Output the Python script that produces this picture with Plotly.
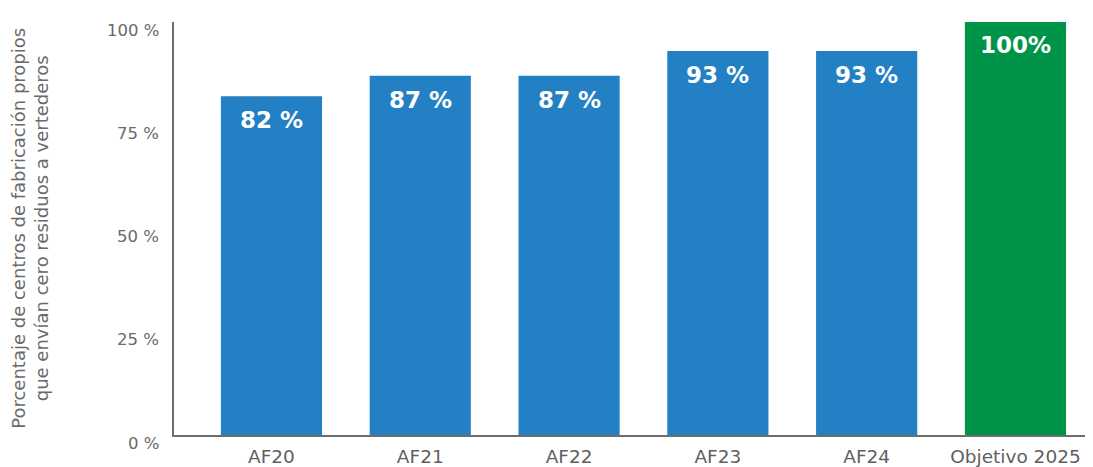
import plotly.graph_objects as go

categories = ["AF20", "AF21", "AF22", "AF23", "AF24", "Objetivo 2025"]
values = [82, 87, 87, 93, 93, 100]
bar_labels = ["82 %", "87 %", "87 %", "93 %", "93 %", "100%"]
bar_colors = ["#2380c4", "#2380c4", "#2380c4", "#2380c4", "#2380c4", "#009448"]
ytick_vals = [0, 25, 50, 75, 100]
ytick_text = ["0 %", "25 %", "50 %", "75 %", "100 %"]
ytitle = "Porcentaje de centros de fabricación propios<br>que envían cero residuos a vertederos"

FONT = "DejaVu Sans"
# page body has an 8px default margin; compensate so the plot lands where the reference has it
OFF = 8

fig = go.Figure()
fig.add_trace(go.Bar(
    x=list(range(len(categories))), y=values,
    marker=dict(color=bar_colors, line=dict(width=0)),
    width=0.68, hoverinfo="skip",
))

ann = []
for i, (v, t) in enumerate(zip(values, bar_labels)):
    ann.append(dict(x=i, y=v, xref="x", yref="y", text=t, showarrow=False,
                    yanchor="middle", yshift=-24 if v < 100 else -23,
                    font=dict(family=FONT, size=23, color="white", weight="bold")))
for v, t in zip(ytick_vals, ytick_text):
    ann.append(dict(x=0, y=v, xref="paper", yref="y", text=t, showarrow=False,
                    xanchor="right", yanchor="middle", xshift=-13, yshift=-8,
                    font=dict(family=FONT, size=16.5, color="#6a6a6a")))
ann.append(dict(x=-0.1575, y=0.5, xref="paper", yref="paper", text=ytitle,
                showarrow=False, textangle=-90, xanchor="center", yanchor="middle",
                font=dict(family=FONT, size=18, color="#6a6a6a")))

fig.update_layout(
    width=1093 - OFF, height=467 - OFF,
    margin=dict(l=174 - OFF, r=0, t=22 - OFF, b=29),
    paper_bgcolor="white", plot_bgcolor="white",
    showlegend=False,
    annotations=ann,
    xaxis=dict(range=[-0.655, 5.521], tickvals=list(range(len(categories))),
               ticktext=categories, showgrid=False, zeroline=False,
               showline=True, linecolor="#6d6d6d", linewidth=2,
               ticks="", ticklabelstandoff=4,
               tickfont=dict(family=FONT, size=18.5, color="#5f5f5f")),
    yaxis=dict(range=[0, 100], showgrid=False, zeroline=False, showline=True,
               linecolor="#6d6d6d", linewidth=2, showticklabels=False, ticks=""),
)

fig.write_html("out.html")
